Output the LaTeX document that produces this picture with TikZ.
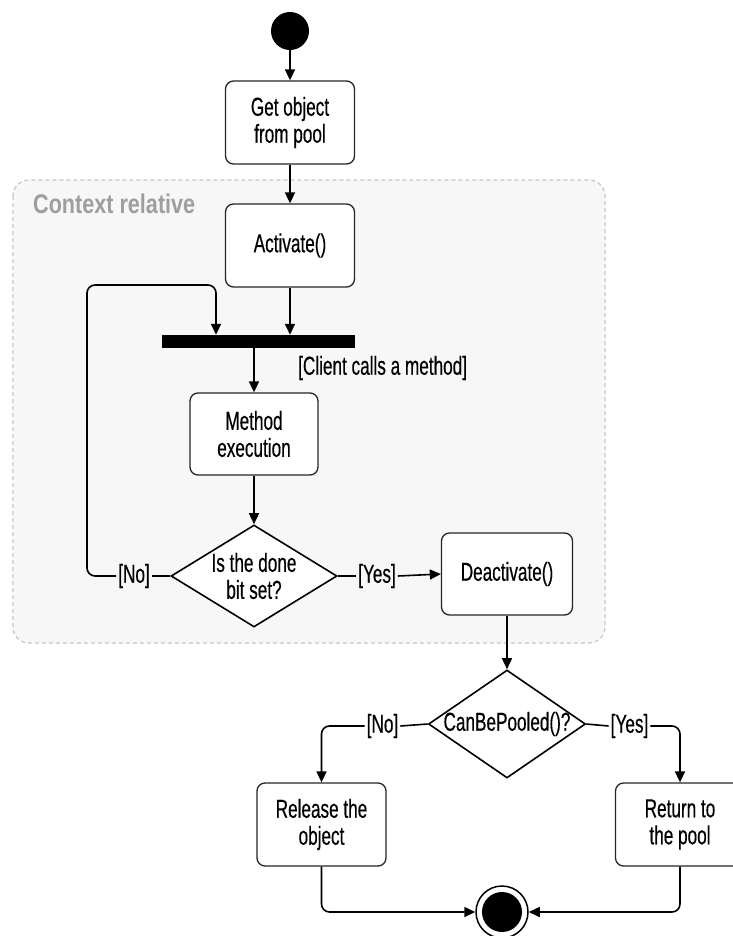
\documentclass[tikz,border=0pt]{standalone}
\usepackage{fontspec}
\newfontfamily\diafont[FakeStretch=0.66, FakeBold=0.4]{Liberation Sans}
\newfontfamily\ctxfont[FakeStretch=0.8]{Liberation Sans}
\usetikzlibrary{shapes.geometric,arrows.meta}

\begin{document}
\begin{tikzpicture}[x=1pt, y=-1pt,
    every node/.style={font=\diafont\fontsize{26}{27}\selectfont},
    act/.style={draw=black!85, line width=1.3pt, rounded corners=8pt, fill=white,
        minimum width=129pt, minimum height=83pt, align=center, inner sep=2pt},
    decide/.style={diamond, draw, line width=1.6pt, fill=white, align=center, inner sep=0pt},
    guard/.style={inner sep=2pt},
    flow/.style={line width=1.6pt, -{Triangle[length=11pt,width=10pt]}},
    link/.style={line width=1.6pt}]

\useasboundingbox (0,0) rectangle (732,936);

% Context region
\draw[black!22, dash pattern=on 4pt off 3pt, line width=1.2pt, fill=black!3,
    rounded corners=16pt] (13,180) rectangle (605,643);
\node[anchor=west, inner sep=0pt, text=black!38,
    font=\ctxfont\bfseries\fontsize{27}{30}\selectfont] (ctx) at (33,204) {Context relative};

% Activities and decisions
\node[circle, fill=black, minimum size=38pt, inner sep=0pt] (start) at (290,31) {};
\node[act] (get) at (290,122.5) {Get object\\from pool};
\node[act] (activate) at (290,245.5) {Activate()};
\node[fill=black, minimum width=193pt, minimum height=13pt, inner sep=0pt] (bar) at (258.5,341.5) {};
\node[act, minimum width=128pt, minimum height=82pt] (method) at (254,434) {Method\\execution};
\node[anchor=west, guard] (client) at (296,368) {[Client calls a method]};
\node[decide, shape aspect=1.63, minimum width=166pt, minimum height=102pt] (done) at (254,576) {Is the done\\bit set?};
\node[guard] (no1) at (134,576) {[No]};
\node[guard] (yes1) at (377,576) {[Yes]};
\node[act, minimum width=131pt, minimum height=82pt] (deact) at (507,574) {Deactivate()};
\node[decide, shape aspect=1.45, inner sep=-2pt, minimum width=157pt, minimum height=108pt] (pooled) at (507,724) {CanBePooled()?};
\node[guard] (no2) at (382.5,726) {[No]};
\node[guard] (yes2) at (629.5,726) {[Yes]};
\node[act] (release) at (321.5,824.5) {Release the\\object};
\node[act] (return) at (680,824.5) {Return to\\the pool};
\node[circle, draw, line width=1.5pt, minimum size=52pt, inner sep=0pt] (end) at (502,912) {};
\fill (end.center) circle (20pt);

% Loop back corners
\coordinate (loop) at (87,285);
\coordinate (join) at (216,285);

% Transitions
\draw[flow] (start) -- (get);
\draw[flow] (get) -- (activate);
\draw[flow] (activate.south) -- (activate.south |- bar.north);
\draw[flow, rounded corners=8pt] (no1.west) -| (loop) -- (join) -- (join |- bar.north);
\draw[flow] (bar.south -| method.north) -- (method.north);
\draw[flow] (method) -- (done);
\draw[link] (done.west) -- (no1.east);
\draw[link] (done.east) -- (yes1.west);
\draw[flow] (yes1.east) -- (deact.west);
\draw[flow] (deact.south) -- (pooled.north);
\draw[link] (pooled.west) -- (no2.east);
\draw[link] (pooled.east) -- (yes2.west);
\draw[flow, rounded corners=8pt] (no2.west) -| (release.north);
\draw[flow, rounded corners=8pt] (yes2.east) -| (return.north);
\draw[flow, rounded corners=8pt] (release.south) |- (end.west);
\draw[flow, rounded corners=8pt] (return.south) |- (end.east);

\end{tikzpicture}
\end{document}
